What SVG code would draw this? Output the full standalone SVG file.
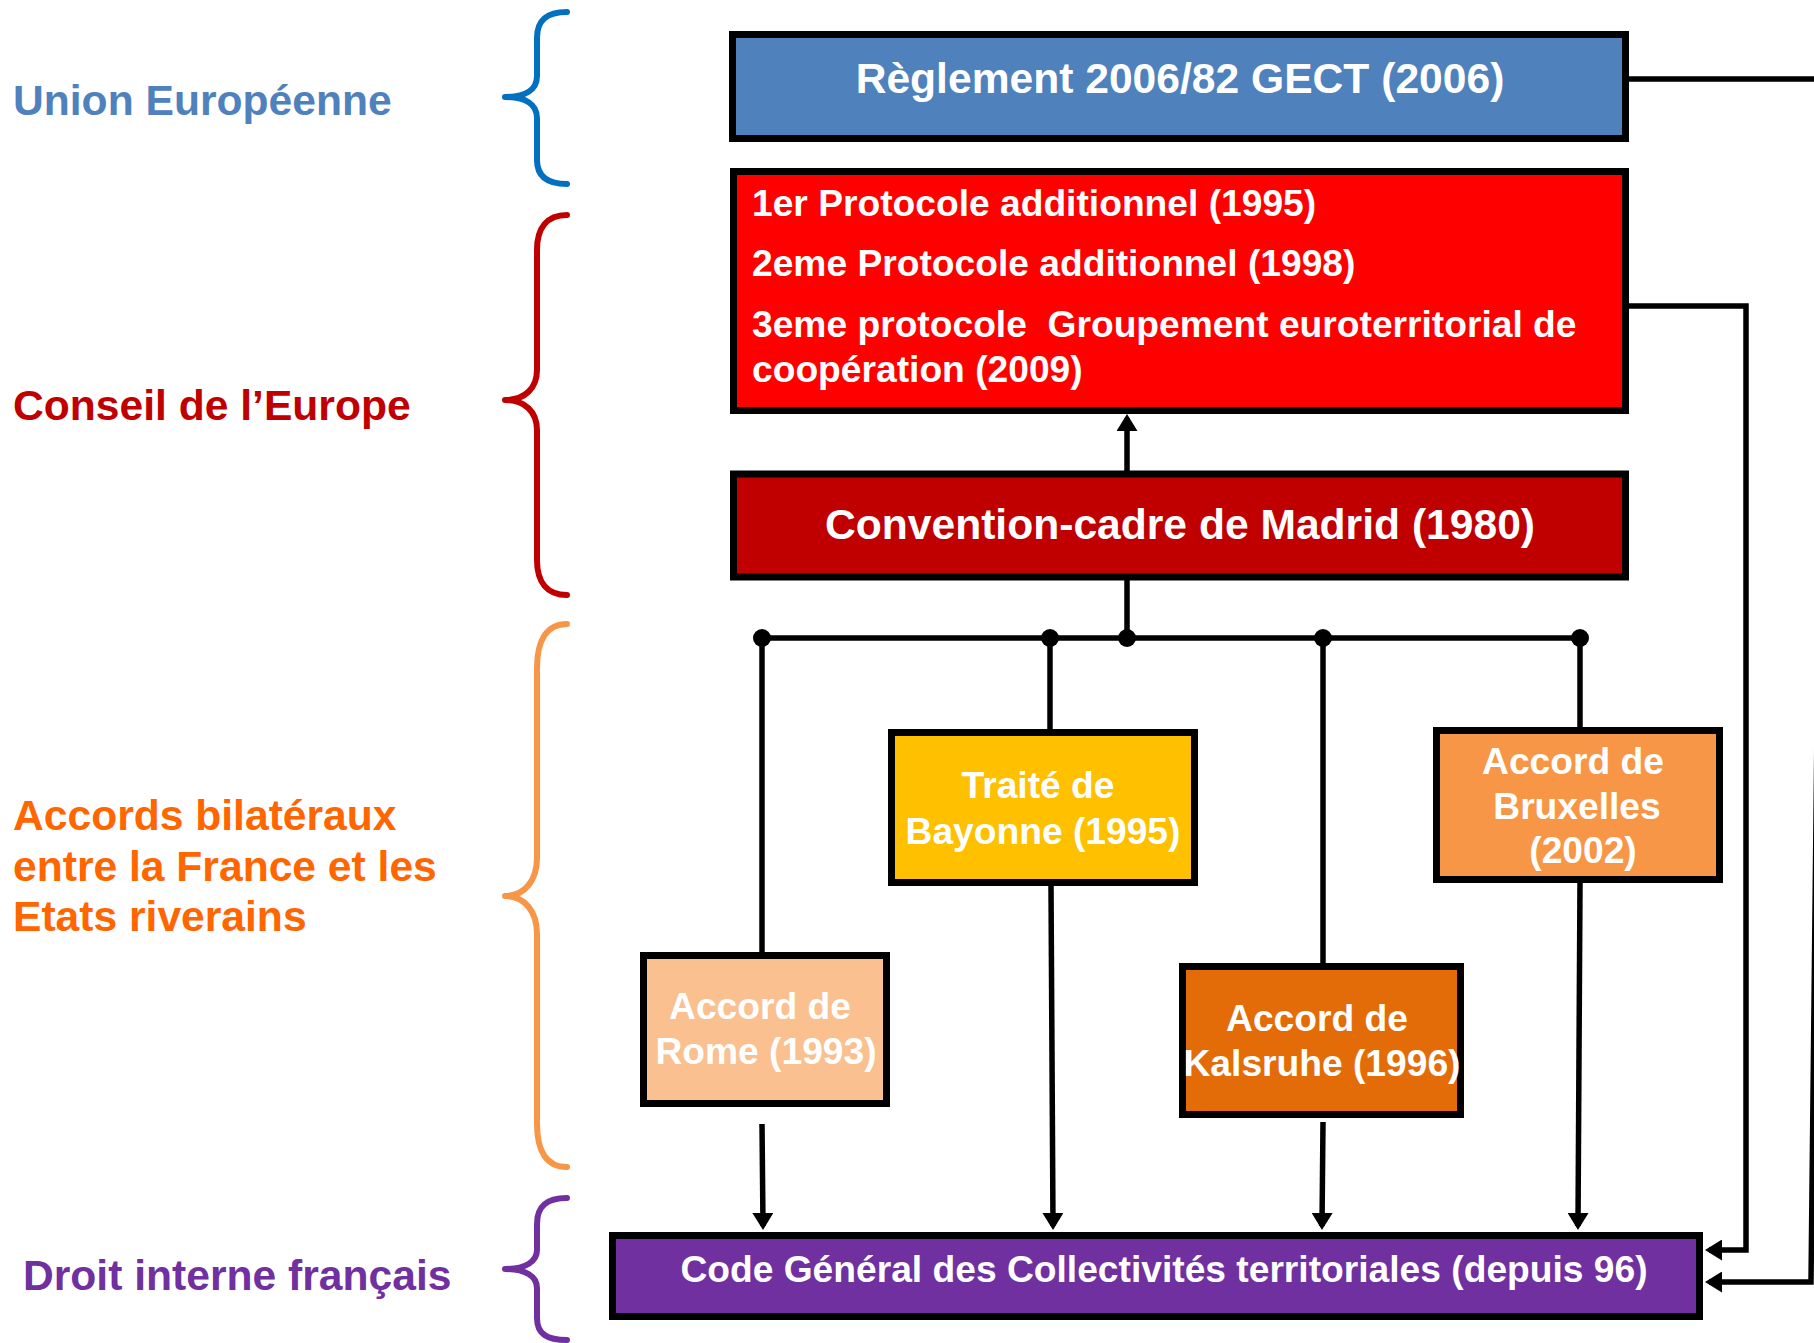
<svg xmlns="http://www.w3.org/2000/svg" width="1814" height="1343" viewBox="0 0 1814 1343">
<style>
  text { font-family: "Liberation Sans", Arial, Helvetica, sans-serif; font-weight: bold; }
  .lbl { font-size: 42.6px; }
  .box { stroke: #000; stroke-width: 7; }
  .wt { fill: #fff; font-size: 37.2px; }
  .wt42 { fill: #fff; font-size: 42.6px; }
  .mid { text-anchor: middle; }
  .brace { fill: none; stroke-width: 6; stroke-linecap: round; stroke-linejoin: round; }
  .conn { fill: none; stroke: #000; stroke-width: 5.5; }
  .arr { marker-end: url(#ah); }
</style>
<defs>
  <marker id="ah" viewBox="0 0 17 21" markerWidth="17" markerHeight="21" refX="13" refY="10.5" orient="auto" markerUnits="userSpaceOnUse">
    <path d="M0,0 L17,10.5 L0,21 z" fill="#000"/>
  </marker>
</defs>
<rect width="1814" height="1343" fill="#fff"/>

<g id="labels">
  <g id="label-ue">
    <text class="lbl" x="13" y="115" fill="#4F81BD">Union Européenne</text>
    <path class="brace" stroke="#0070C0" d="M567,12 C547,12 537,20 537,38 L537,76 C537,90 525,97 505,97 C525,97 537,104 537,118 L537,160 C537,176 547,184 567,184"/>
  </g>
  <g id="label-ce">
    <text class="lbl" x="13" y="420" fill="#C00000">Conseil de l’Europe</text>
    <path class="brace" stroke="#C00000" d="M567,215 C547,215 537,228 537,250 L537,370 C537,388 525,400 505,400 C525,400 537,412 537,430 L537,560 C537,582 547,595 567,595"/>
  </g>
  <g id="label-ab">
    <text class="lbl" fill="#FF6600"><tspan x="13" y="830">Accords bilatéraux</tspan><tspan x="13" y="881">entre la France et les</tspan><tspan x="13" y="931">Etats riverains</tspan></text>
    <path class="brace" stroke="#F79646" d="M567,624 C547,624 537,640 537,668 L537,858 C537,880 525,896 505,896 C525,896 537,912 537,934 L537,1124 C537,1152 547,1167 567,1167"/>
  </g>
  <g id="label-di">
    <text class="lbl" x="23" y="1290" fill="#7030A0">Droit interne français</text>
    <path class="brace" stroke="#7030A0" d="M567,1198 C547,1198 537,1206 537,1224 L537,1250 C537,1262 525,1269 505,1269 C525,1269 537,1276 537,1288 L537,1318 C537,1334 547,1340 567,1340"/>
  </g>
</g>

<g id="connectors">
  <line class="conn arr" x1="1127" y1="471" x2="1127" y2="418"/>
  <line class="conn" x1="1127" y1="580" x2="1127" y2="638"/>
  <line class="conn" x1="762" y1="638" x2="1580" y2="638"/>
  <line class="conn" x1="762" y1="638" x2="762" y2="953"/>
  <line class="conn" x1="1050" y1="638" x2="1050" y2="730"/>
  <line class="conn" x1="1323" y1="638" x2="1323" y2="968"/>
  <line class="conn" x1="1580" y1="638" x2="1580" y2="728"/>
  <circle cx="762" cy="638" r="9"/>
  <circle cx="1050" cy="638" r="9"/>
  <circle cx="1127" cy="638" r="9"/>
  <circle cx="1323" cy="638" r="9"/>
  <circle cx="1580" cy="638" r="9"/>
  <line class="conn arr" x1="762" y1="1124" x2="763" y2="1226"/>
  <line class="conn arr" x1="1051" y1="886" x2="1053" y2="1226"/>
  <line class="conn arr" x1="1323" y1="1122" x2="1322" y2="1226"/>
  <line class="conn arr" x1="1580" y1="883" x2="1578" y2="1226"/>
  <path class="conn arr" d="M1629,306 L1746,306 L1746,1250 L1709,1250"/>
  <path class="conn arr" d="M1629,79 L1824,79 L1811,1282 L1709,1282"/>
</g>

<g id="n-reglement">
  <rect class="box" x="732.5" y="34.5" width="893" height="104" fill="#4F81BD"/>
  <text class="wt42 mid" x="1180" y="93">Règlement 2006/82 GECT (2006)</text>
</g>
<g id="n-protocoles">
  <rect class="box" x="733.5" y="171.5" width="892" height="239" fill="#FF0000"/>
  <text class="wt"><tspan x="752" y="216">1er Protocole additionnel (1995)</tspan><tspan x="752" y="276">2eme Protocole additionnel (1998)</tspan><tspan x="752" y="337" xml:space="preserve">3eme protocole  Groupement euroterritorial de</tspan><tspan x="752" y="382">coopération (2009)</tspan></text>
</g>
<g id="n-madrid">
  <rect class="box" x="733.5" y="474" width="892" height="103" fill="#C00000"/>
  <text class="wt42 mid" x="1180" y="539">Convention-cadre de Madrid (1980)</text>
</g>
<g id="n-rome">
  <rect class="box" x="643.5" y="955.5" width="243" height="148" fill="#FAC090"/>
  <text class="wt mid"><tspan x="760" y="1019">Accord de</tspan><tspan x="766" y="1064">Rome (1993)</tspan></text>
</g>
<g id="n-bayonne">
  <rect class="box" x="891.5" y="732.5" width="303" height="150" fill="#FFC000"/>
  <text class="wt mid"><tspan x="1038" y="798">Traité de</tspan><tspan x="1043" y="844">Bayonne (1995)</tspan></text>
</g>
<g id="n-kalsruhe">
  <rect class="box" x="1182.5" y="966.5" width="278" height="148" fill="#E36C09"/>
  <text class="wt mid"><tspan x="1317" y="1031">Accord de</tspan><tspan x="1322" y="1076">Kalsruhe (1996)</tspan></text>
</g>
<g id="n-bruxelles">
  <rect class="box" x="1436.5" y="730.5" width="283" height="149" fill="#F79646"/>
  <text class="wt mid"><tspan x="1573" y="774">Accord de</tspan><tspan x="1577" y="819">Bruxelles</tspan><tspan x="1583" y="863">(2002)</tspan></text>
</g>
<g id="n-cgct">
  <rect class="box" x="612.5" y="1235.5" width="1087" height="81" fill="#7030A0"/>
  <text class="wt mid" x="1164" y="1282">Code Général des Collectivités territoriales (depuis 96)</text>
</g>
</svg>
